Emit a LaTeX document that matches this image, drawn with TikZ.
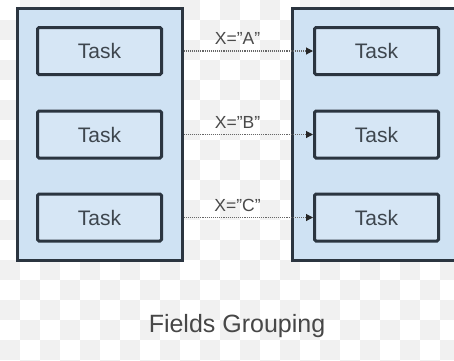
\documentclass[tikz,border=0pt]{standalone}
\usepackage{fontspec}
\setmainfont{Liberation Sans}[Ligatures=NoCommon]
\usetikzlibrary{arrows.meta}
\definecolor{boxfill}{HTML}{CFE2F3}
\definecolor{taskfill}{HTML}{D6E6F5}
\definecolor{edge}{HTML}{2B3540}
\definecolor{txt}{HTML}{3E464E}
\definecolor{lbl}{HTML}{4A4A4A}
\definecolor{chk}{HTML}{F1F1F1}
\tikzset{
  bigbox/.style={draw=edge, fill=boxfill, line width=3pt, inner sep=0pt},
  taskbox/.style={draw=edge, fill=taskfill, line width=3pt, rounded corners=1.5pt,
    minimum width=124pt, minimum height=47pt, inner sep=0pt,
    font=\fontsize{21}{23}\selectfont, text=txt},
  flow/.style={densely dotted, draw=black!60, line width=1.1pt,
    -{Triangle[length=7pt,width=7pt,color=black!85,fill=black!85]}},
  flowlabel/.style={font=\fontsize{17.5}{19}\selectfont, text=lbl}
}
\begin{document}
\begin{tikzpicture}[x=1pt,y=-1pt]
\useasboundingbox (0,0) rectangle (454,360);
\fill[white] (0,0) rectangle (454,360);
\begin{scope}
\clip (0,0) rectangle (454,360);
% faint checkerboard background
\foreach \i in {0,...,22}{
  \foreach \j in {0,...,18}{
    \pgfmathparse{int(mod(\i+\j,2))}
    \ifnum\pgfmathresult=1
      \fill[chk] (\i*20,\j*20) rectangle ++(20,20);
    \fi
  }
}
\node[bigbox, minimum width=165pt, minimum height=252pt] (leftbox) at (99.5,134) {};
\node[bigbox, minimum width=180pt, minimum height=252pt] (rightbox) at (382,134) {};
\end{scope}
\node[taskbox] (l1) at (99.5,51) {Task};
\node[taskbox] (l2) at (99.5,134.5) {Task};
\node[taskbox] (l3) at (99.5,217.5) {Task};
\node[taskbox] (r1) at (376.5,51) {Task};
\node[taskbox] (r2) at (376.5,134.5) {Task};
\node[taskbox] (r3) at (376.5,217.5) {Task};
\coordinate (s1) at (leftbox.east |- l1);
\coordinate (s2) at (leftbox.east |- l2);
\coordinate (s3) at (leftbox.east |- l3);
\draw[flow] (s1) -- (r1.west);
\draw[flow] (s2) -- (r2.west);
\draw[flow] (s3) -- (r3.west);
\node[flowlabel] (a1) at (237.5,38) {X=\symbol{34}A\symbol{34}};
\node[flowlabel] (a2) at (237.5,122) {X=\symbol{34}B\symbol{34}};
\node[flowlabel] (a3) at (237.5,205) {X=\symbol{34}C\symbol{34}};
\node[font=\fontsize{25}{28}\selectfont, text=black!72] (title) at (237,326) {Fields Grouping};
\end{tikzpicture}
\end{document}
